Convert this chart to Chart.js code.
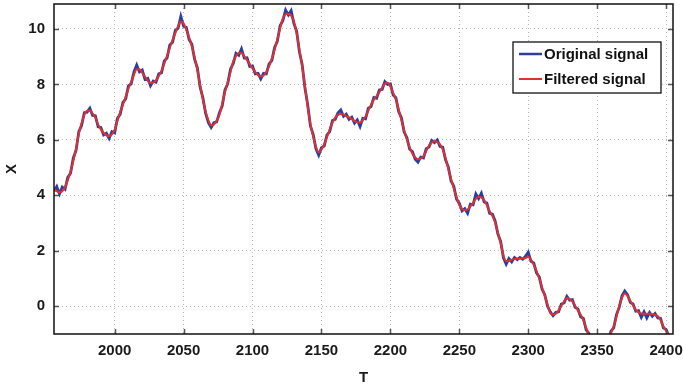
<!DOCTYPE html>
<html>
<head>
<meta charset="utf-8">
<script src="https://cdn.jsdelivr.net/npm/chart.js@4.4.1/dist/chart.umd.min.js"></script>
<style>
  html, body { margin: 0; padding: 0; background: #fff; }
  #wrap { width: 684px; height: 389px; }
</style>
</head>
<body>
<div id="wrap"><canvas id="c" width="684" height="389"></canvas></div>
<script>
// time axis: every 2 units from 1956 to 2404
const T = Array.from({ length: 225 }, (_, i) => 1956 + 2 * i);

// filtered signal (red)
const filtered = [
  4.22, 4.15, 4.11, 4.15, 4.3, 4.55, 4.85, 5.25, 5.68, 6.22,
  6.6, 6.9, 7.05, 7.06, 6.95, 6.8, 6.55, 6.38, 6.25, 6.17,
  6.13, 6.2, 6.37, 6.68, 7.0, 7.27, 7.55, 7.85, 8.1, 8.35,
  8.55, 8.55, 8.42, 8.28, 8.13, 8.05, 8.07, 8.15, 8.3, 8.5,
  8.75, 9.03, 9.32, 9.6, 9.85, 10.1, 10.27, 10.2, 9.97, 9.7,
  9.37, 8.97, 8.52, 7.97, 7.45, 7.02, 6.7, 6.53, 6.55, 6.7,
  6.9, 7.3, 7.72, 8.08, 8.45, 8.83, 9.02, 9.13, 9.13, 9.02,
  8.88, 8.73, 8.58, 8.45, 8.33, 8.29, 8.32, 8.45, 8.65, 8.93,
  9.25, 9.63, 10.03, 10.38, 10.53, 10.55, 10.48, 10.27, 9.85, 9.25,
  8.65, 7.95, 7.2, 6.57, 6.12, 5.75, 5.55, 5.65, 5.85, 6.1,
  6.38, 6.62, 6.8, 6.9, 6.93, 6.91, 6.86, 6.81, 6.75, 6.68,
  6.64, 6.63, 6.71, 6.84, 7.06, 7.27, 7.45, 7.58, 7.72, 7.88,
  8.02, 8.06, 7.93, 7.7, 7.45, 7.1, 6.72, 6.35, 6.01, 5.73,
  5.5, 5.37, 5.3, 5.32, 5.41, 5.6, 5.8, 5.9, 5.95, 5.92,
  5.84, 5.66, 5.35, 4.95, 4.6, 4.25, 3.93, 3.65, 3.51, 3.47,
  3.49, 3.6, 3.73, 3.87, 3.95, 3.93, 3.83, 3.65, 3.42, 3.26,
  3.02, 2.66, 2.28, 1.82, 1.63, 1.64, 1.68, 1.7, 1.71, 1.72,
  1.73, 1.74, 1.79, 1.68, 1.5, 1.27, 1.0, 0.68, 0.37, 0.06,
  -0.24, -0.3, -0.27, -0.15, 0.02, 0.18, 0.3, 0.26, 0.18, 0.02,
  -0.15, -0.3, -0.5, -0.78, -1.02, -1.25, -1.45, -1.57, -1.6, -1.52,
  -1.4, -1.2, -0.97, -0.72, -0.38, 0.02, 0.3, 0.46, 0.37, 0.2,
  0.03, -0.12, -0.22, -0.26, -0.27, -0.27, -0.27, -0.29, -0.31, -0.36,
  -0.5, -0.72, -0.88, -1.02, -1.2
];

// original signal (blue), noisy around the filtered one
const original = [
  4.15, 4.32, 4.05, 4.3, 4.22, 4.65, 4.8, 5.35, 5.62, 6.3,
  6.52, 6.98, 7.0, 7.14, 6.88, 6.87, 6.47, 6.45, 6.18, 6.24,
  6.05, 6.3, 6.25, 6.78, 6.92, 7.35, 7.48, 7.95, 8.02, 8.45,
  8.7, 8.45, 8.52, 8.18, 8.22, 7.95, 8.12, 8.08, 8.38, 8.42,
  8.85, 8.95, 9.42, 9.52, 9.95, 10.02, 10.45, 10.1, 10.05, 9.62,
  9.45, 8.9, 8.6, 7.9, 7.52, 6.95, 6.62, 6.45, 6.62, 6.65,
  6.98, 7.22, 7.8, 8.02, 8.55, 8.75, 9.12, 9.05, 9.28, 8.95,
  8.96, 8.65, 8.66, 8.38, 8.4, 8.2, 8.4, 8.38, 8.74, 8.86,
  9.33, 9.55, 10.12, 10.3, 10.68, 10.5, 10.66, 10.2, 9.92, 9.18,
  8.72, 7.88, 7.28, 6.5, 6.2, 5.68, 5.45, 5.72, 5.78, 6.18,
  6.3, 6.7, 6.74, 6.98, 7.08, 6.85, 6.93, 6.74, 6.82, 6.6,
  6.72, 6.48, 6.78, 6.76, 7.14, 7.2, 7.53, 7.5, 7.8, 7.82,
  8.1, 8.0, 8.02, 7.62, 7.52, 7.02, 6.8, 6.28, 6.08, 5.66,
  5.58, 5.3, 5.2, 5.38, 5.35, 5.68, 5.74, 5.98, 5.9, 6.0,
  5.76, 5.74, 5.28, 5.03, 4.52, 4.33, 3.86, 3.72, 3.44, 3.52,
  3.35, 3.68, 3.66, 4.05, 3.88, 4.08, 3.76, 3.72, 3.35, 3.32,
  3.08, 2.6, 2.34, 1.75, 1.52, 1.72, 1.6, 1.76, 1.68, 1.76,
  1.7, 1.8, 1.95, 1.62, 1.56, 1.2, 1.06, 0.62, 0.42, 0.0,
  -0.2, -0.34, -0.22, -0.2, 0.08, 0.12, 0.36, 0.22, 0.24, -0.04,
  -0.1, -0.38, -0.44, -0.85, -0.98, -1.3, -1.4, -1.62, -1.55, -1.56,
  -1.35, -1.25, -0.9, -0.78, -0.3, -0.04, 0.38, 0.55, 0.42, 0.14,
  0.08, -0.18, -0.16, -0.4, -0.2, -0.42, -0.22, -0.36, -0.26, -0.42,
  -0.44, -0.78, -0.84, -1.08, -1.16
];

const xTicks = [2000, 2050, 2100, 2150, 2200, 2250, 2300, 2350, 2400];
const yTicks = [0, 2, 4, 6, 8, 10];
const seriesNames = ['Original signal', 'Filtered signal'];

const FONT = '"Liberation Sans", Arial, Helvetica, sans-serif';
const BLUE = '#2b3f9e';
const RED = '#e5302a';

// box, inward ticks and the boxed legend (matlab look)
const framePlugin = {
  id: 'frame',
  afterDatasetsDraw(chart) {
    const { ctx, chartArea: a, scales } = chart;
    ctx.save();
    ctx.strokeStyle = '#555';
    ctx.lineWidth = 1.5;
    const tl = 5;
    xTicks.forEach(v => {
      const px = Math.round(scales.x.getPixelForValue(v)) + 0.5;
      ctx.beginPath();
      ctx.moveTo(px, a.bottom); ctx.lineTo(px, a.bottom - tl);
      ctx.moveTo(px, a.top); ctx.lineTo(px, a.top + tl);
      ctx.stroke();
    });
    yTicks.forEach(v => {
      const py = Math.round(scales.y.getPixelForValue(v)) + 0.5;
      ctx.beginPath();
      ctx.moveTo(a.left, py); ctx.lineTo(a.left + tl, py);
      ctx.moveTo(a.right, py); ctx.lineTo(a.right - tl, py);
      ctx.stroke();
    });
    ctx.strokeStyle = '#111';
    ctx.lineWidth = 1.5;
    ctx.strokeRect(a.left, a.top, a.right - a.left, a.bottom - a.top);

    // legend
    const lx = 513, ly = 42, lw = 148, lh = 51;
    ctx.fillStyle = '#fff';
    ctx.fillRect(lx, ly, lw, lh);
    ctx.strokeStyle = '#111';
    ctx.lineWidth = 1.3;
    ctx.strokeRect(lx, ly, lw, lh);
    ctx.font = 'bold 15px ' + FONT;
    ctx.textBaseline = 'middle';
    ctx.fillStyle = '#111';
    const rows = [{ c: BLUE, w: 2.5, y: ly + 12 }, { c: RED, w: 2, y: ly + 37 }];
    rows.forEach((r, i) => {
      ctx.strokeStyle = r.c;
      ctx.lineWidth = r.w;
      ctx.beginPath();
      ctx.moveTo(lx + 6, r.y); ctx.lineTo(lx + 29, r.y);
      ctx.stroke();
      ctx.fillText(seriesNames[i], lx + 31, r.y + 1);
    });
    ctx.restore();
  }
};

new Chart(document.getElementById('c'), {
  type: 'line',
  data: {
    datasets: [
      {
        label: seriesNames[0],
        data: T.map((t, i) => ({ x: t, y: original[i] })),
        borderColor: BLUE,
        borderWidth: 2.8,
        pointRadius: 0,
        tension: 0,
        order: 2
      },
      {
        label: seriesNames[1],
        data: T.map((t, i) => ({ x: t, y: filtered[i] })),
        borderColor: RED,
        borderWidth: 2,
        pointRadius: 0,
        tension: 0.4,
        cubicInterpolationMode: 'monotone',
        order: 1
      }
    ]
  },
  options: {
    responsive: false,
    animation: false,
    layout: { padding: { top: 4, right: 11, left: 0, bottom: 0 } },
    plugins: { legend: { display: false }, tooltip: { enabled: false } },
    scales: {
      x: {
        type: 'linear',
        min: 1956,
        max: 2405,
        afterFit: s => { s.height = 55; s.paddingLeft = 0; s.paddingRight = 0; },
        afterBuildTicks: s => { s.ticks = xTicks.map(v => ({ value: v })); },
        ticks: { font: { family: FONT, size: 15, weight: 'bold' }, color: '#1a1a1a', padding: 8, maxRotation: 0, callback: v => String(v) },
        grid: { color: '#b5b5b5', lineWidth: 1, drawTicks: false },
        border: { display: false, dash: [1, 3] },
        title: { display: true, text: 'T', font: { family: FONT, size: 15, weight: 'bold' }, color: '#1a1a1a', padding: { top: 0, bottom: 2 } }
      },
      y: {
        min: -1,
        max: 10.9,
        afterFit: s => { s.width = 54; s.paddingTop = 0; s.paddingBottom = 0; },
        afterBuildTicks: s => { s.ticks = yTicks.map(v => ({ value: v })); },
        ticks: { font: { family: FONT, size: 15, weight: 'bold' }, color: '#1a1a1a', padding: 9, callback: v => String(v) },
        grid: { color: '#b5b5b5', lineWidth: 1, drawTicks: false },
        border: { display: false, dash: [1, 3] },
        title: { display: true, text: 'X', font: { family: FONT, size: 15, weight: 'bold' }, color: '#1a1a1a', padding: { top: 3, bottom: 0 } }
      }
    }
  },
  plugins: [framePlugin]
});
</script>
</body>
</html>
